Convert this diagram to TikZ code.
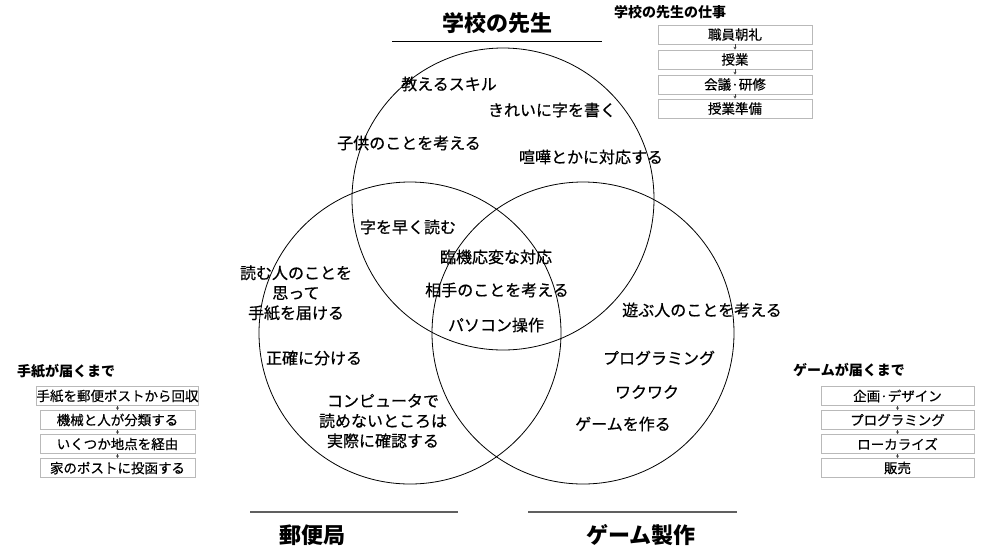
\documentclass[tikz,border=0pt]{standalone}
\usepackage{fontspec}
\setmainfont{Noto Sans CJK JP}
\newfontfamily\jpheavy[FakeBold=0.6]{Noto Sans CJK JP}
\newfontfamily\jpmid[FakeBold=0.4]{Noto Sans CJK JP}
\usetikzlibrary{arrows.meta}
\begin{document}
\begin{tikzpicture}[x=1pt,y=-1pt,
  venn/.style={circle, draw=black, line width=0.8pt, minimum size=302pt, inner sep=0pt},
  lbl/.style={font=\jpheavy\fontsize{16}{20}\selectfont, inner sep=0pt, align=center},
  ttl/.style={font=\fontsize{22}{26}\selectfont\bfseries, inner sep=0pt},
  sub/.style={font=\fontsize{14}{17}\selectfont\bfseries, inner sep=0pt, anchor=west},
  stepbox/.style={draw=gray!55, line width=0.7pt, minimum width=154pt, minimum height=19pt, inner sep=0pt, font=\jpmid\fontsize{13.5}{15}\selectfont},
  flow/.style={draw=black!75, line width=0.6pt, -{Stealth[length=2.8pt,width=3pt]}},
  rule/.style={line width=0.9pt}
]
\useasboundingbox[fill=white] (0,0) rectangle (993,558);

% circles
\node[venn] (ct) at (503,199) {};
\node[venn] (cl) at (410,333) {};
\node[venn] (cr) at (583,333) {};

% titles
\node[ttl] (tSchool) at (497,23) {学校の先生};
\coordinate (u1a) at (392,41); \coordinate (u1b) at (602,41);
\draw[rule,black] (u1a) -- (u1b);
\coordinate (u2a) at (250,512); \coordinate (u2b) at (458,512);
\draw[rule,gray!75!black,line width=1.2pt] (u2a) -- (u2b);
\coordinate (u3a) at (528,512); \coordinate (u3b) at (737,512);
\draw[rule,gray!75!black,line width=1.2pt] (u3a) -- (u3b);
\node[ttl] (tPost) at (312,535) {郵便局};
\node[ttl] (tGame) at (641,535) {ゲーム製作};

% labels inside circles
\node[lbl] (a1) at (449,84) {教えるスキル};
\node[lbl] (a2) at (552,110) {きれいに字を書く};
\node[lbl] (a3) at (409,143) {子供のことを考える};
\node[lbl] (a4) at (591,157) {喧嘩とかに対応する};
\node[lbl] (a5) at (408,227) {字を早く読む};
\node[lbl] (a6) at (496,257) {臨機応変な対応};
\node[lbl] (a7) at (497,290) {相手のことを考える};
\node[lbl] (a8) at (496,325) {パソコン操作};
\node[lbl] (a9) at (296,293) {読む人のことを\\思って\\手紙を届ける};
\node[lbl] (a10) at (314,358) {正確に分ける};
\node[lbl] (a11) at (383,421) {コンピュータで\\読めないところは\\実際に確認する};
\node[lbl] (a12) at (702,310) {遊ぶ人のことを考える};
\node[lbl] (a13) at (659,358) {プログラミング};
\node[lbl] (a14) at (647,392) {ワクワク};
\node[lbl] (a15) at (623,424) {ゲームを作る};

% teacher job list
\node[sub] (sT) at (614,12) {学校の先生の仕事};
\node[stepbox] (t1) at (735,34.5) {職員朝礼};
\node[stepbox] (t2) at (735,59.5) {授業};
\node[stepbox] (t3) at (735,84.5) {会議·研修};
\node[stepbox] (t4) at (735,108.5) {授業準備};
\draw[flow] (t1) -- (t2);
\draw[flow] (t2) -- (t3);
\draw[flow] (t3) -- (t4);

% post list
\node[sub] (sP) at (17,371) {手紙が届くまで};
\node[stepbox,minimum width=155pt] (p1) at (117.5,396) {手紙を郵便ポストから回収};
\node[stepbox,minimum width=155pt] (p2) at (117.5,420) {機械と人が分類する};
\node[stepbox,minimum width=155pt] (p3) at (117.5,444) {いくつか地点を経由};
\node[stepbox,minimum width=155pt] (p4) at (117.5,468) {家のポストに投函する};
\draw[flow] (p1) -- (p2);
\draw[flow] (p2) -- (p3);
\draw[flow] (p3) -- (p4);

% game list
\node[sub] (sG) at (793,370) {ゲームが届くまで};
\node[stepbox,minimum width=153pt] (g1) at (897.5,396) {企画·デザイン};
\node[stepbox,minimum width=153pt] (g2) at (897.5,420) {プログラミング};
\node[stepbox,minimum width=153pt] (g3) at (897.5,444) {ローカライズ};
\node[stepbox,minimum width=153pt] (g4) at (897.5,468) {販売};
\draw[flow] (g1) -- (g2);
\draw[flow] (g2) -- (g3);
\draw[flow] (g3) -- (g4);
\end{tikzpicture}
\end{document}
